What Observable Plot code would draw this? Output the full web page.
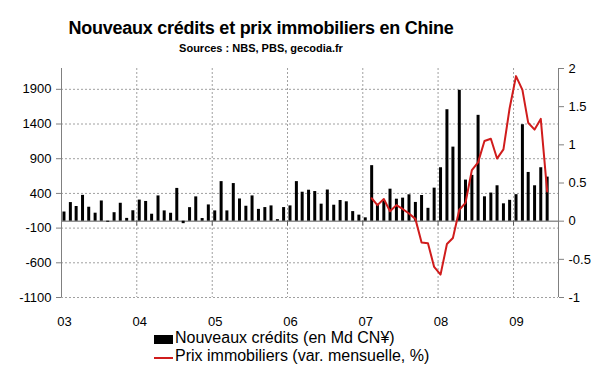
<!DOCTYPE html>
<html><head><meta charset="utf-8">
<script src="https://cdn.jsdelivr.net/npm/d3@7"></script>
<script src="https://cdn.jsdelivr.net/npm/@observablehq/plot@0.6"></script>
<style>
body{margin:0;background:#fff;font-family:"Liberation Sans",Arial,sans-serif;}
#wrap{position:relative;width:600px;height:372px;overflow:hidden;background:#fff;}
.t{position:absolute;left:0;width:522px;text-align:center;font-weight:bold;color:#000;white-space:nowrap;}
#chart{position:absolute;left:0;top:58px;}
.leg{position:absolute;left:175px;font-size:16px;line-height:16px;white-space:nowrap;color:#000;}
.sw{position:absolute;left:154px;width:19px;}
</style></head><body>
<div id="wrap">
<div class="t" style="top:19px;font-size:18px;line-height:18px;letter-spacing:-0.25px">Nouveaux crédits et prix immobiliers en Chine</div>
<div class="t" style="top:43px;font-size:11px;line-height:11px">Sources : NBS, PBS, gecodia.fr</div>
<div id="chart"></div>
<div class="sw" style="top:335px;height:9px;background:#000"></div>
<div class="leg" style="top:330px">Nouveaux crédits (en Md CN¥)</div>
<div class="sw" style="top:357px;height:2px;background:#d01c1c"></div>
<div class="leg" style="top:348px">Prix immobiliers (var. mensuelle, %)</div>
</div>
<script>
// ---- data ----
const years = [2003, 2004, 2005, 2006, 2007, 2008, 2009];
const yearLabels = ["03", "04", "05", "06", "07", "08", "09"];
// Nouveaux crédits (Md CNY), monthly from Jan 2003 to Jun 2009
const credits2003 = [132, 268, 211, 372, 201, 115, 291, -15, 122, 258, 40, 150];
const credits2004 = [304, 284, 100, 364, 148, 114, 472, -36, 195, 350, 38, 234];
const credits2005 = [148, 570, 148, 542, 320, 215, 364, 170, 196, 220, 22, 196];
const credits2006 = [220, 570, 417, 446, 427, 245, 449, 230, 298, 279, 138, 87];
const credits2007 = [48, 800, 245, 288, 461, 317, 332, 380, 270, 370, 185, 476];
const credits2008 = [770, 1606, 1067, 1886, 592, 660, 1525, 351, 405, 510, 250, 300];
const credits2009 = [382, 1390, 702, 510, 770, 635];
// Prix immobiliers (var. mensuelle, %), monthly from Feb 2007 to Jun 2009
const priceStart = [2007, 1]; // year, month index (Feb)
const prices = [0.30, 0.21, 0.29, 0.13, 0.21, 0.16, 0.10, 0.03, -0.28, -0.29, -0.60,
  -0.70, -0.30, -0.22, 0.15, 0.24, 0.67, 0.77, 1.05, 1.08, 0.82, 0.94, 1.48,
  1.90, 1.72, 1.29, 1.20, 1.34, 0.39];
const leftTicks = [-1100, -600, -100, 400, 900, 1400, 1900];
const rightTicks = [-1, -0.5, 0, 0.5, 1, 1.5, 2];

// ---- build tables ----
const credits = [].concat(credits2003, credits2004, credits2005, credits2006, credits2007, credits2008, credits2009);
const monthDate = (y, m) => new Date(Date.UTC(y, m, 13));
const creditData = credits.map((v, i) => ({date: monthDate(2003 + Math.floor(i / 12), i % 12), credit: v}));
const priceData = prices.map((v, i) => {
  const k = priceStart[1] + i;
  return {date: monthDate(priceStart[0] + Math.floor(k / 12), k % 12), price: v};
});
const K = 1100; // right axis unit in left-axis units
const yDomain = [-1100, 2200];
const xDomain = [new Date(Date.UTC(2003, 0, 1)), new Date(Date.UTC(2009, 7, 7))];
const yearDates = years.map(y => new Date(Date.UTC(y, 0, 1)));
const grid = {stroke: "#a0a0a0", strokeOpacity: 1, strokeDasharray: "2,2"};

const chart = Plot.plot({
  width: 600, height: 274,
  marginTop: 10, marginBottom: 35, marginLeft: 61, marginRight: 42,
  style: {fontFamily: '"Liberation Sans", Arial, sans-serif', fontSize: "13px", color: "#000", background: "transparent"},
  x: {type: "utc", domain: xDomain, label: null},
  y: {domain: yDomain, label: null},
  marks: [
    Plot.gridY(leftTicks, grid),
    Plot.gridX(yearDates.slice(1), grid),
    Plot.ruleY([0], {stroke: "#5a5a5a"}),
    Plot.ruleX(yearDates.slice(1), {y1: 0, y2: -70, stroke: "#5a5a5a"}),
    Plot.ruleX(creditData, {x: "date", y1: 0, y2: "credit", stroke: "#000", strokeWidth: 3}),
    Plot.line(priceData, {x: "date", y: d => d.price * K, stroke: "#d01c1c", strokeWidth: 2}),
    Plot.ruleX([xDomain[0]], {y1: yDomain[0], y2: yDomain[1], stroke: "#808080"}),
    Plot.ruleX([xDomain[1]], {y1: yDomain[0], y2: yDomain[1], stroke: "#808080"}),
    Plot.axisY(leftTicks, {anchor: "left", label: null, tickSize: 5, tickPadding: 5, stroke: "#808080", fill: "#000",
      tickFormat: d => String(d)}),
    Plot.axisY(rightTicks.map(v => v * K), {anchor: "right", label: null, tickSize: 5, tickPadding: 5, stroke: "#808080", fill: "#000",
      tickFormat: d => String(Math.round(d / K * 10) / 10)}),
    Plot.axisX(yearDates, {anchor: "bottom", label: null, tickSize: 0, tickPadding: 19, dx: 3, fill: "#000",
      tickFormat: d => yearLabels[years.indexOf(d.getUTCFullYear())]})
  ]
});
document.getElementById("chart").appendChild(chart);
</script>
</body></html>
